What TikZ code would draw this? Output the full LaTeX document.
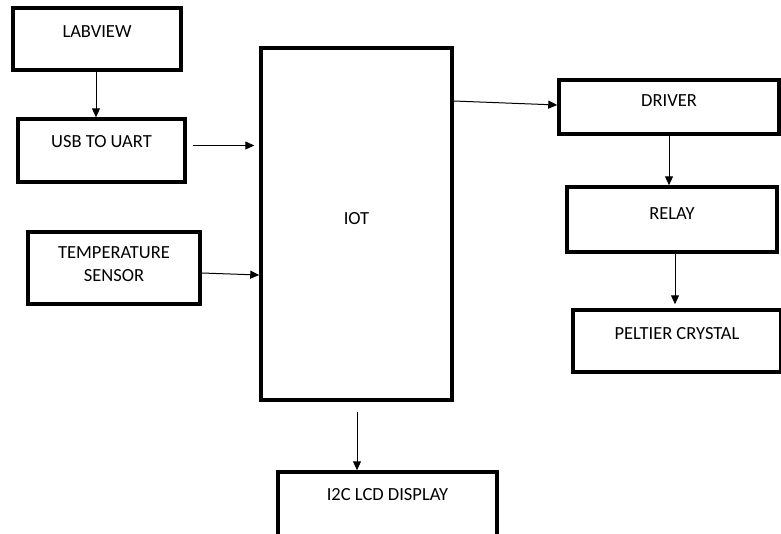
\documentclass[tikz,border=0pt]{standalone}
\usepackage{fontspec}
\setmainfont{Carlito}
\usepackage{tikz}
\usetikzlibrary{arrows.meta,positioning}

\begin{document}
\begin{tikzpicture}[
  x=1pt,y=-1pt,
  blk/.style={draw,line width=3.5pt,inner sep=0pt},
  lbl/.style={inner sep=0pt,align=center,font=\fontsize{18.5}{23}\selectfont},
  arr/.style={-{Triangle[length=9pt,width=8pt]},line width=1pt}
]
\useasboundingbox (0,0) rectangle (781,533);
% blocks
\node[blk,minimum width=168,minimum height=62] (labview) at (97,39) {};
\node[blk,minimum width=167,minimum height=63] (usb) at (101.5,150.5) {};
\node[blk,minimum width=172,minimum height=72] (temp) at (114,268) {};
\node[blk,minimum width=191,minimum height=352] (iot) at (356.5,224) {};
\node[blk,minimum width=220,minimum height=54] (driver) at (669,107) {};
\node[blk,minimum width=210,minimum height=65] (relay) at (672,219.5) {};
\node[blk,minimum width=208,minimum height=62] (peltier) at (677,341) {};
\node[blk,minimum width=219,minimum height=80] (lcd) at (387.5,512) {};
% texts
\node[lbl] (labviewtxt) at ([yshift=-25pt]labview.north) {LABVIEW};
\node[lbl] (usbtxt) at ([yshift=-24pt]usb.north) {USB TO UART};
\node[lbl] (temptxt) at ([yshift=-34pt]temp.north) {TEMPERATURE\\SENSOR};
\node[lbl] (iottxt) at ([yshift=-172pt]iot.north) {IOT};
\node[lbl] (drivertxt) at ([yshift=-22pt]driver.north) {DRIVER};
\node[lbl] (relaytxt) at ([yshift=-28pt]relay.north) {RELAY};
\node[lbl] (peltiertxt) at ([yshift=-25pt]peltier.north) {PELTIER CRYSTAL};
\node[lbl] (lcdtxt) at ([yshift=-24pt]lcd.north) {I2C LCD DISPLAY};
% connectors
\draw[arr] ([xshift=-1pt]labview.south) -- ([xshift=-1pt]labview.south |- usb.north);
\draw[arr,shorten <=6pt,shorten >=5pt] ([yshift=5pt]usb.east) -- ([yshift=5pt]usb.east -| iot.west);
\draw[arr] ([yshift=-5pt]temp.east) -- ([yshift=-7pt]temp.east -| iot.west);
\draw[arr] ([yshift=6pt]iot.east |- driver.west) -- ([yshift=2pt]driver.west);
\draw[arr] (driver.south) -- (driver.south |- relay.north);
\draw[arr,shorten >=4pt] ([xshift=3pt]relay.south) -- ([xshift=3pt]relay.south |- peltier.north);
\draw[arr,shorten <=10pt] ([xshift=0.5pt]iot.south) -- ([xshift=0.5pt]iot.south |- lcd.north);
\end{tikzpicture}
\end{document}
